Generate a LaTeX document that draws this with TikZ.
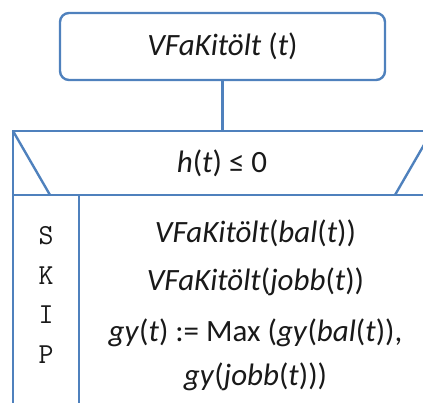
\documentclass[tikz,border=0pt]{standalone}
\usepackage{fontspec}
\setmainfont{Carlito}
\definecolor{nsblue}{RGB}{79,129,189}
\definecolor{nstext}{RGB}{25,25,25}
\begin{document}
\begin{tikzpicture}[x=1pt,y=-1pt,
  frame/.style={draw=nsblue, line width=2.4pt},
  txt/.style={font=\fontsize{31}{37}\selectfont, text=nstext, inner sep=0pt},
  skipletter/.style={font=\ttfamily\fontsize{29}{32}\selectfont, text=nstext, inner sep=0pt}]
\useasboundingbox (0,0) rectangle (423,403);
\clip (0,0) rectangle (423,403);

% procedure header
\node[frame, rounded corners=9pt, minimum width=325pt, minimum height=67pt, txt] (head)
  at (222.5,46.5) {\textit{VFaKitölt} (\textit{t})};

% selection block: condition row with its two slanted edges
\coordinate (tl) at (13,131);
\coordinate (tr) at (432,131);
\coordinate (ctop) at (222.5,131);
\draw[frame] (13,420) -- (tl) -- (tr) -- (432,420);
\draw[frame] (13,195) -- (432,195);
\draw[frame] (tl) -- (50,195);
\draw[frame] (tr) -- (395,195);
\draw[frame] (79,195) -- (79,420);
\draw[frame] (head.south) -- (ctop);

\node[txt] (cond) at (222,163) {\textit{h}(\textit{t}) ≤ 0};

% false branch
\node[skipletter] (s1) at (46,236) {S};
\node[skipletter] (s2) at (46,276) {K};
\node[skipletter] (s3) at (46,315) {I};
\node[skipletter] (s4) at (46,355) {P};

% true branch
\node[txt] (st1) at (255.5,233) {\textit{VFaKitölt}(\textit{bal}(\textit{t}))};
\node[txt] (st2) at (255.5,282) {\textit{VFaKitölt}(\textit{jobb}(\textit{t}))};
\node[txt] (st3) at (255.5,333) {\textit{gy}(\textit{t}) := Max (\textit{gy}(\textit{bal}(\textit{t})),};
\node[txt] (st4) at (255.5,377) {\textit{gy}(\textit{jobb}(\textit{t})))};
\end{tikzpicture}
\end{document}
